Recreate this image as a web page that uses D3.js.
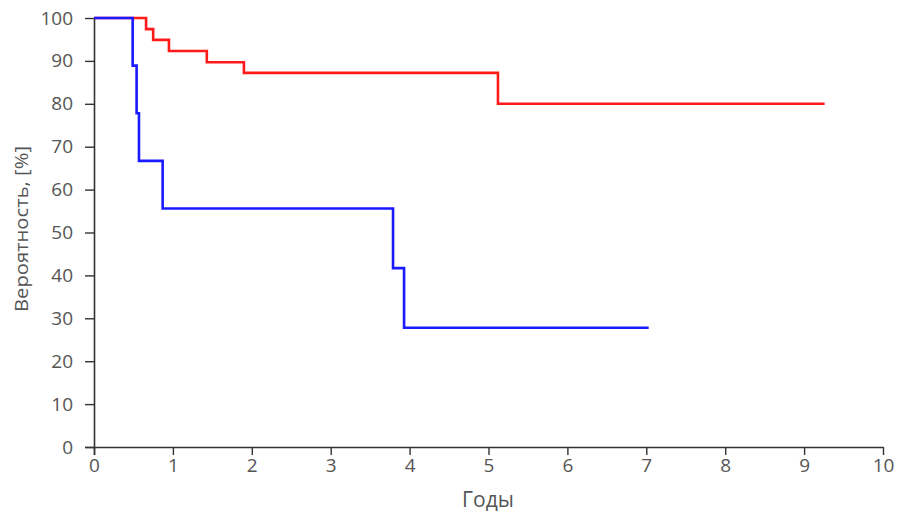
<!DOCTYPE html>
<html><head><meta charset="utf-8">
<script src="https://cdn.jsdelivr.net/npm/d3@7"></script>
<style>body{margin:0;background:#fff}svg{display:block}</style>
</head><body>
<script>
const xTicks = [0,1,2,3,4,5,6,7,8,9,10];
const yTicks = [0,10,20,30,40,50,60,70,80,90,100];
const redTimes  = [0, 0.66, 0.75, 0.95, 1.43, 1.90, 5.12, 9.26];
const redValues = [100, 97.4, 94.9, 92.3, 89.7, 87.2, 80.0, 80.0];
const blueTimes  = [0, 0.49, 0.54, 0.57, 0.87, 3.79, 3.93, 7.03];
const blueValues = [100, 88.9, 77.8, 66.7, 55.6, 41.7, 27.8, 27.8];

const W = 897, H = 515;
const svg = d3.select("body").append("svg").attr("width", W).attr("height", H);
const x = d3.scaleLinear().domain([0,10]).range([94,883]);
const y = d3.scaleLinear().domain([0,100]).range([447,18]);
const font = "'Open Sans', 'Noto Sans', sans-serif";

const xa = svg.append("g").attr("transform","translate(0,447)")
  .call(d3.axisBottom(x).tickValues(xTicks).tickSize(8).tickPadding(4).tickFormat(d3.format("d")));
const ya = svg.append("g").attr("transform","translate(94,0)")
  .call(d3.axisLeft(y).tickValues(yTicks).tickSize(9).tickPadding(12).tickFormat(d3.format("d")));
[xa, ya].forEach(a => {
  a.select(".domain").attr("stroke","#333").attr("stroke-width",1.6);
  a.selectAll(".tick line").attr("stroke","#333").attr("stroke-width",1.4);
  a.selectAll(".tick text").attr("fill","#555").style("font-family",font).style("font-size","19px");
});
ya.select(".domain").attr("d","M0.5,18V455");
xa.select(".domain").attr("d","M85,0.5H883.5");

const line = d3.line().x(d=>x(d[0])).y(d=>y(d[1])).curve(d3.curveStepAfter);
const series = [[redTimes, redValues, "#ff1a1a"], [blueTimes, blueValues, "#1a1aff"]];
series.forEach(([t,v,c]) => {
  svg.append("path").datum(t.map((tt,i)=>[tt,v[i]]))
    .attr("d", line).attr("fill","none").attr("stroke",c).attr("stroke-width",2.6);
});

svg.append("text").attr("x",488).attr("y",507).attr("text-anchor","middle")
  .attr("fill","#555").style("font-family",font).style("font-size","21px").text("Годы");
svg.append("text").attr("transform","translate(28,229) rotate(-90)").attr("text-anchor","middle")
  .attr("textLength",166).attr("lengthAdjust","spacingAndGlyphs")
  .attr("fill","#555").style("font-family",font).style("font-size","19px").text("Вероятность, [%]");
</script>
</body></html>
